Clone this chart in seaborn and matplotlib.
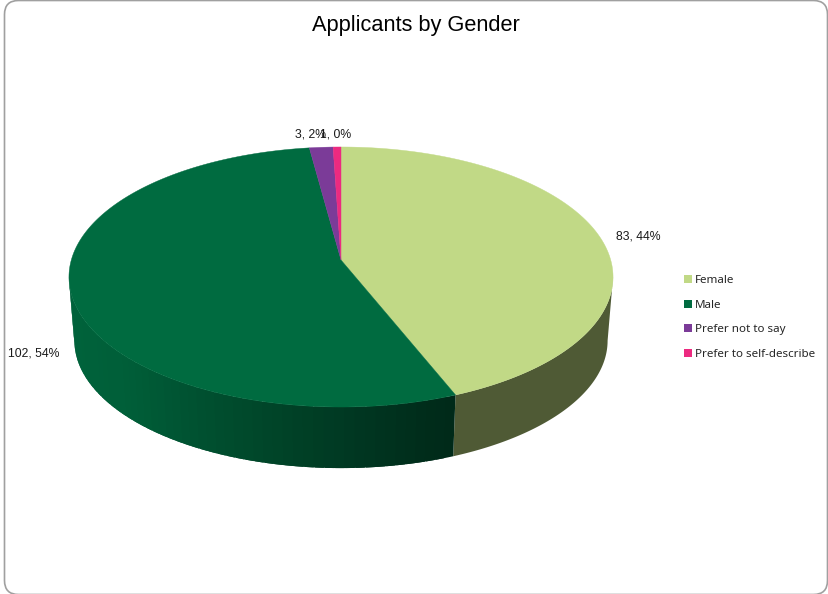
import numpy as np
import matplotlib
matplotlib.use('Agg')
import matplotlib.pyplot as plt
from matplotlib.patches import FancyBboxPatch, Patch, Polygon
import seaborn as sns

categories = ['Female', 'Male', 'Prefer not to say', 'Prefer to self-describe']
values = [83, 102, 3, 1]
percent_labels = ['44%', '54%', '2%', '0%']
colors = ['#C1D986', '#006B40', '#7B3B98', '#EC2A80']

# where excel left the data labels, in pixels
label_pos = [(638, 236.5), (34, 353.5), (311, 134.5), (336, 134.5)]

# side shading of the male slice against the horizontal position on the rim (0 left, 1 right)
shade_x = [0.0, 0.1, 0.24, 0.42, 0.61, 0.72]
shade_male = [0.92, 0.88, 0.75, 0.6, 0.45, 0.38]
side_female = '#4F5A35'

W, H = 829, 594
CX, TOP_Y, BOTTOM_Y = 341, 260, 324
R, B, C = 269.7, 127.8, 0.1308   # radius, height of the disc, perspective
BOTTOM_SCALE = 0.98


def rim(theta, cy, scale=1.0):
    # clockwise from 12 o'clock, back of the pie is a bit smaller
    u, v = np.sin(theta), np.cos(theta)
    d = 1 + C * v
    return CX + scale * R * u / d, cy - scale * B * v / d


def side_poly(t):
    xa, ya = rim(t, TOP_Y)
    xb, yb = rim(t[::-1], BOTTOM_Y, BOTTOM_SCALE)
    return np.c_[np.r_[xa, xb], np.r_[ya, yb]]


sns.set_theme(style='white')
plt.rcParams['font.family'] = ['Liberation Sans', 'DejaVu Sans']
fig = plt.figure(figsize=(W / 100, H / 100), dpi=100)
ax = fig.add_axes([0, 0, 1, 1])
ax.set_xlim(0, W)
ax.set_ylim(H, 0)
ax.axis('off')

# bottom line of the frame falls just off the picture
ax.add_patch(FancyBboxPatch((4.5, 0.5), 823, 594, boxstyle='round,pad=0,rounding_size=14',
                            fc='white', ec='#A0A0A0', lw=1.2))

edges = 2 * np.pi * np.concatenate([[0], np.cumsum(values)]) / np.sum(values)

# sides only from the widest point of the rim forward, the rest is under the top
front0 = np.arccos(-C)
front1 = 2 * np.pi - front0
t = np.linspace(max(edges[0], front0), edges[1], 100)
ax.add_patch(Polygon(side_poly(t), closed=True, fc=side_female, ec='none'))

a0, a1 = edges[1], min(edges[2], front1)
steps = np.linspace(a0, a1, int((a1 - a0) * 30) + 1)
for s0, s1 in zip(steps[:-1], steps[1:]):
    t = np.linspace(s0, min(s1 + 0.03, a1), 8)   # overlap the next band so no seams show
    xa, _ = rim(np.array([(s0 + s1) / 2]), TOP_Y)
    k = np.interp((xa[0] - (CX - R)) / (2 * R), shade_x, shade_male)
    col = np.array(matplotlib.colors.to_rgb(colors[1])) * k
    ax.add_patch(Polygon(side_poly(t), closed=True, fc=col, ec='none'))

# top of the pie
for i, (a0, a1) in enumerate(zip(edges[:-1], edges[1:])):
    t = np.linspace(a0, a1, 200)
    x, y = rim(t, TOP_Y)
    ax.add_patch(Polygon(np.c_[np.r_[CX, x], np.r_[TOP_Y, y]], closed=True, fc=colors[i], ec=colors[i], lw=0.3))

for val, pct, (lx, ly) in zip(values, percent_labels, label_pos):
    ax.text(lx, ly, f'{val}, {pct}', ha='center', va='center', fontsize=8.8, color='#1A1A1A')

ax.text(416, 25.5, 'Applicants by Gender', ha='center', va='center', fontsize=15.7, color='black')

handles = [Patch(fc=c, ec=c, lw=0) for c in colors]
leg = ax.legend(handles, categories, loc='center left', bbox_to_anchor=(684 / W, 1 - 317.5 / H),
                bbox_transform=fig.transFigure, frameon=False, ncol=1, handlelength=0.68, handleheight=0.68,
                handletextpad=0.27, labelspacing=1.18, borderpad=0, borderaxespad=0,
                prop={'family': 'Noto Sans', 'size': 8.35}, labelcolor='#262626')

fig.savefig('out.png', dpi=100)
